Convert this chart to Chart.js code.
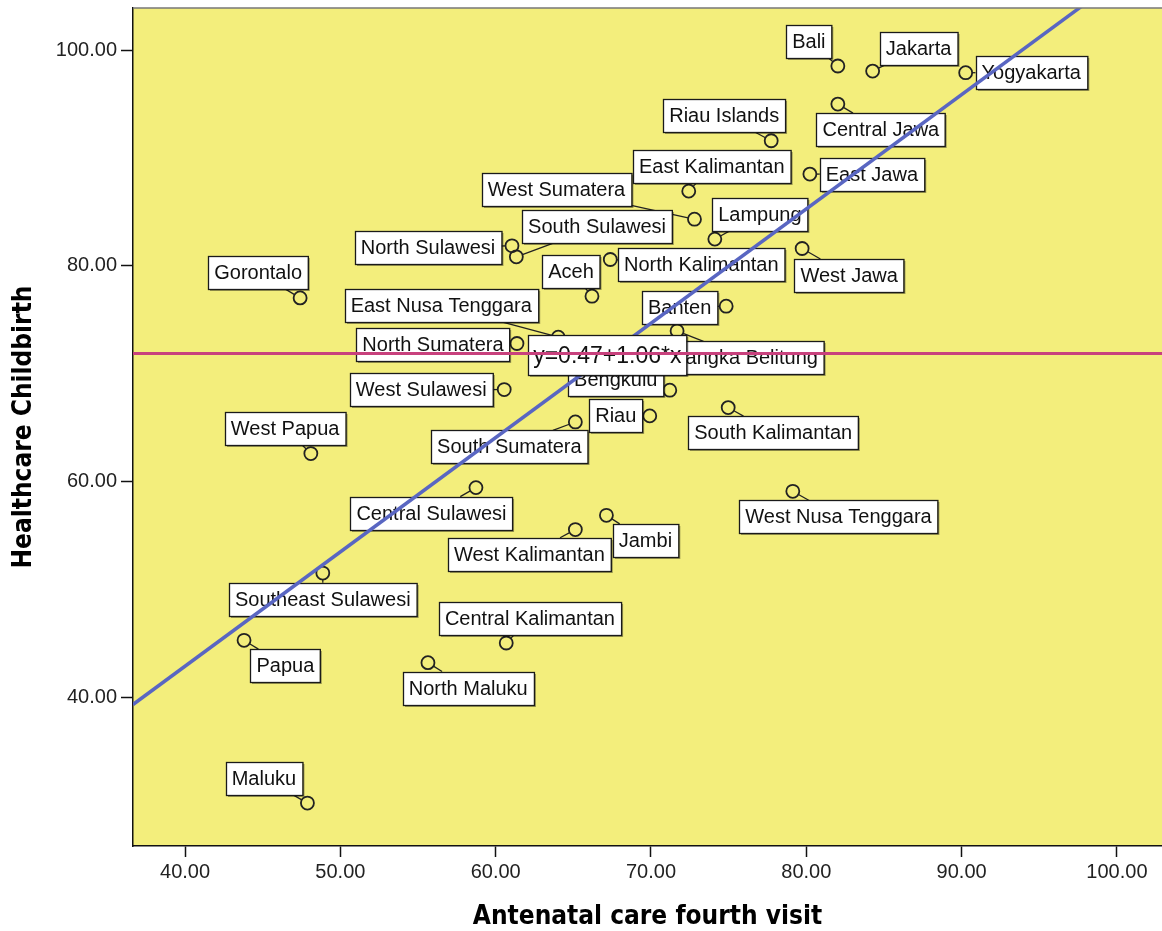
<!DOCTYPE html>
<html>
<head>
<meta charset="utf-8">
<script src="https://cdn.jsdelivr.net/npm/chart.js@4"></script>
<style>
  html, body { margin: 0; padding: 0; background: #fff; }
</style>
</head>
<body>
<canvas id="chart" width="1162" height="931"></canvas>
<script>
// province names
const provinces = [
  "Aceh", "North Sumatera", "West Sumatera", "Riau", "Jambi", "South Sumatera",
  "Bengkulu", "Lampung", "Bangka Belitung", "Riau Islands", "Jakarta", "West Jawa",
  "Central Jawa", "Yogyakarta", "East Jawa", "Banten", "Bali", "West Nusa Tenggara",
  "East Nusa Tenggara", "West Kalimantan", "Central Kalimantan", "South Kalimantan",
  "East Kalimantan", "North Kalimantan", "North Sulawesi", "Central Sulawesi",
  "South Sulawesi", "Southeast Sulawesi", "Gorontalo", "West Sulawesi", "Maluku",
  "North Maluku", "West Papua", "Papua"
];

// x: antenatal care fourth visit (%)
const ancVisit = [
  66.20, 61.37, 72.80, 69.92, 67.13, 65.13,
  71.21, 74.11, 71.68, 77.74, 84.27, 79.73,
  82.03, 90.26, 80.23, 74.84, 82.03, 79.13,
  64.03, 65.13, 60.68, 74.97,
  72.43, 67.38, 61.05, 58.73,
  61.33, 48.87, 47.41, 60.55, 47.88,
  55.64, 48.10, 43.80
];

// y: healthcare childbirth (%)
const healthcareBirth = [
  77.18, 72.79, 84.32, 66.08, 56.86, 65.52,
  68.46, 82.47, 73.96, 91.59, 98.05, 81.60,
  94.99, 97.90, 88.50, 76.25, 98.52, 59.09,
  73.38, 55.54, 45.02, 66.85,
  86.92, 80.58, 81.85, 59.43,
  80.83, 51.51, 77.02, 68.52, 30.18,
  43.20, 62.59, 45.27
];

const xTicks = [40, 50, 60, 70, 80, 90, 100];
const yTicks = [40, 60, 80, 100];

// fit line and reference line as printed on the chart
const fitIntercept = 0.47;
const fitSlope = 1.06;
const fitText = "y=0.47+1.06*x";
const meanBirth = 71.86;

// axis ranges
const xMin = 36.65, xMax = 102.9;
const yMin = 26.2, yMax = 103.9;

// label box centre offsets from each point (px), same order as provinces
const labelOffsets = [
  [-21, -25], [-84, 1], [-138, -30], [-34, 0], [39, 25], [-66, 25],
  [-54, -11], [45, -25], [68, 27], [-47, -25], [46, -23], [47, 27],
  [43, 25.5], [65.5, 0], [62, 0], [-46.5, 1], [-29, -25], [45.7, 25.7],
  [-117, -31.5], [-46, 24.7], [23.7, -24.4], [45, 25],
  [23, -24.5], [91, 4.5], [-84, 1.5], [-44.5, 25.5],
  [80.7, -30], [0, 26.3], [-42, -25], [-83, 0], [-43.5, -25],
  [40.3, 25.4], [-25.7, -25.3], [41.3, 25.3]
];
const fitLabelAt = { x: 67.19, y: 71.71 };

const labelFont = "20px 'Liberation Sans', Arial, sans-serif";
const fitFont = "23px 'Liberation Sans', Arial, sans-serif";
const pointRadius = 6.5;

function labelBox(ctx, text, cx, cy, h, padX) {
  const w = ctx.measureText(text).width + padX * 2;
  const x = Math.round(cx - w / 2), y = Math.round(cy - h / 2);
  ctx.fillStyle = "rgba(0,0,0,0.35)";
  ctx.fillRect(x + 2, y + 2, w, h);
  ctx.fillStyle = "#fff";
  ctx.fillRect(x, y, w, h);
  ctx.strokeStyle = "#1a1a1a";
  ctx.lineWidth = 1.3;
  ctx.strokeRect(x + 0.5, y + 0.5, w, h);
  ctx.fillStyle = "#111";
  ctx.textAlign = "center";
  ctx.textBaseline = "middle";
  ctx.fillText(text, cx, cy + 1);
}

const labelPlugin = {
  id: "pointLabels",
  beforeDraw(chart) {
    const { ctx, chartArea: a } = chart;
    ctx.save();
    ctx.fillStyle = "#f3ee7c";
    ctx.fillRect(a.left, a.top, a.right - a.left, a.bottom - a.top);
    ctx.restore();
  },
  beforeDatasetDraw(chart, args) {
    if (args.index !== 0) return;
    const ctx = chart.ctx;
    ctx.save();
    ctx.font = labelFont;
    ctx.strokeStyle = "#222";
    ctx.lineWidth = 1.3;
    args.meta.data.forEach((pt, i) => {
      const [ox, oy] = labelOffsets[i];
      const cx = pt.x + ox, cy = pt.y + oy;
      const w = ctx.measureText(provinces[i]).width + 12, h = 33;
      const dx = pt.x - cx, dy = pt.y - cy;
      const t = Math.min(dx ? (w / 2) / Math.abs(dx) : Infinity, dy ? (h / 2) / Math.abs(dy) : Infinity);
      if (t >= 1) return;
      const sx = cx + dx * t, sy = cy + dy * t;
      const len = Math.hypot(pt.x - sx, pt.y - sy);
      if (len <= pointRadius) return;
      const ex = pt.x - (pt.x - sx) / len * pointRadius;
      const ey = pt.y - (pt.y - sy) / len * pointRadius;
      ctx.beginPath();
      ctx.moveTo(sx, sy);
      ctx.lineTo(ex, ey);
      ctx.stroke();
    });
    ctx.restore();
  },
  afterDatasetDraw(chart, args) {
    const ctx = chart.ctx;
    ctx.save();
    if (args.index === 0) {
      ctx.font = labelFont;
      args.meta.data.forEach((pt, i) => {
        const [ox, oy] = labelOffsets[i];
        labelBox(ctx, provinces[i], pt.x + ox, pt.y + oy, 33, 6);
      });
    } else if (args.index === 1) {
      ctx.font = fitFont;
      const cx = chart.scales.x.getPixelForValue(fitLabelAt.x);
      const cy = chart.scales.y.getPixelForValue(fitLabelAt.y);
      labelBox(ctx, fitText, cx, cy, 40, 5);
    }
    ctx.restore();
  },
  afterDraw(chart) {
    const { ctx, chartArea: a } = chart;
    ctx.save();
    ctx.strokeStyle = "#777";
    ctx.lineWidth = 1.5;
    ctx.beginPath();
    ctx.moveTo(a.left, a.top);
    ctx.lineTo(a.right, a.top);
    ctx.stroke();
    ctx.restore();
  }
};

const tickFont = { family: "'Liberation Sans', Arial, sans-serif", size: 20 };
const titleFont = { family: "'DejaVu Sans Condensed', 'DejaVu Sans', sans-serif", size: 26, weight: "bold" };

new Chart(document.getElementById("chart"), {
  type: "scatter",
  data: {
    datasets: [
      {
        data: ancVisit.map((x, i) => ({ x, y: healthcareBirth[i] })),
        pointRadius: pointRadius,
        pointBorderWidth: 1.8,
        pointBorderColor: "#222",
        pointBackgroundColor: "rgba(0,0,0,0)",
        order: 3
      },
      {
        data: [xMin, xMax].map(x => ({ x, y: fitIntercept + fitSlope * x })),
        showLine: true,
        borderColor: "#5966c2",
        borderWidth: 3.5,
        pointRadius: 0,
        order: 2
      },
      {
        data: [xMin, xMax].map(x => ({ x, y: meanBirth })),
        showLine: true,
        borderColor: "#c8417d",
        borderWidth: 3,
        pointRadius: 0,
        order: 1
      }
    ]
  },
  options: {
    responsive: false,
    animation: false,
    layout: { autoPadding: false, padding: { top: 8, right: 0, left: 0, bottom: 0 } },
    plugins: { legend: { display: false }, tooltip: { enabled: false } },
    scales: {
      x: {
        type: "linear",
        min: xMin,
        max: xMax,
        afterBuildTicks: s => { s.ticks = xTicks.map(v => ({ value: v })); },
        afterFit: s => { s.height = 85; s.paddingLeft = 0; s.paddingRight = 0; },
        ticks: { callback: v => v.toFixed(2), font: tickFont, color: "#222", padding: 3, maxRotation: 0, autoSkip: false },
        grid: { drawOnChartArea: false, drawTicks: true, tickLength: 11, tickWidth: 1.5, tickColor: "#111" },
        border: { display: true, color: "#111", width: 1.5 },
        title: { display: true, text: "Antenatal care fourth visit", font: titleFont, color: "#000", padding: { top: 0, bottom: -2 } }
      },
      y: {
        type: "linear",
        min: yMin,
        max: yMax,
        afterBuildTicks: s => { s.ticks = yTicks.map(v => ({ value: v })); },
        afterFit: s => { s.width = 133; s.paddingTop = 0; s.paddingBottom = 0; },
        ticks: { callback: v => v.toFixed(2), font: tickFont, color: "#222", padding: 4, autoSkip: false },
        grid: { drawOnChartArea: false, drawTicks: true, tickLength: 12, tickWidth: 1.5, tickColor: "#111" },
        border: { display: true, color: "#111", width: 1.5 },
        title: { display: true, text: "Healthcare Childbirth", font: titleFont, color: "#000", padding: { top: 9, bottom: 0 } }
      }
    }
  },
  plugins: [labelPlugin]
});
</script>
</body>
</html>
